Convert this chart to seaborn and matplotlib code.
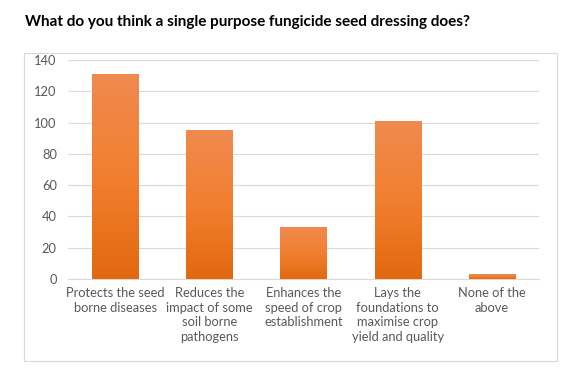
import numpy as np
import pandas as pd
import matplotlib.pyplot as plt
import seaborn as sns
from matplotlib.colors import LinearSegmentedColormap
from matplotlib.patches import Rectangle

categories = [
    "Protects the seed\nborne diseases",
    "Reduces the\nimpact of some\nsoil borne\npathogens",
    "Enhances the\nspeed of crop\nestablishment",
    "Lays the\nfoundations to\nmaximise crop\nyield and quality",
    "None of the\nabove",
]
counts = [131, 95, 33, 101, 3]
yticks = [0, 20, 40, 60, 80, 100, 120, 140]

sns.set_style("white")
plt.rcParams["font.family"] = ["Lato", "DejaVu Sans"]

df = pd.DataFrame({"answer": categories, "count": counts})

fig = plt.figure(figsize=(5.73, 3.88), dpi=100)
ax = fig.add_axes([68 / 573, 1 - 279 / 388, 471 / 573, 219 / 388])

sns.barplot(data=df, x="answer", y="count", color="#ED7D31", width=0.49, ax=ax, zorder=2)

# vertical orange gradient inside each bar
grad = LinearSegmentedColormap.from_list("og", ["#E2680F", "#F27F2F", "#F08A50"])
g = np.linspace(0, 1, 256).reshape(-1, 1)
for p in ax.patches:
    x0, y0 = p.get_x(), p.get_y()
    w, h = p.get_width(), p.get_height()
    im = ax.imshow(g, cmap=grad, aspect="auto", origin="lower",
                   extent=[x0, x0 + w, y0, y0 + h], zorder=3)
    im.set_clip_path(p)
    p.set_facecolor("none")
    p.set_edgecolor("none")

ax.set_xlim(-0.5, len(categories) - 0.5)
ax.set_ylim(0, 140)
ax.set_yticks(yticks)
ax.yaxis.grid(True, color="#D9D9D9", linewidth=0.8, zorder=0)
ax.set_axisbelow(True)
for s in ["top", "right", "left"]:
    ax.spines[s].set_visible(False)
ax.spines["bottom"].set_color("#D9D9D9")
ax.tick_params(axis="both", length=0, colors="#595959", labelsize=9.3)
ax.tick_params(axis="x", pad=6)
ax.tick_params(axis="y", pad=8)
for lbl in ax.get_xticklabels():
    lbl.set_linespacing(1.25)
ax.set_xlabel("")
ax.set_ylabel("")

fig.text(25 / 573, 1 - 22 / 388, "What do you think a single purpose fungicide seed dressing does?",
         fontsize=11, fontweight="bold", color="black", va="center", ha="left")

fig.patches.append(Rectangle((24 / 573, 1 - 361 / 388), 533 / 573, 308 / 388,
                             transform=fig.transFigure, fill=False,
                             edgecolor="#D9D9D9", linewidth=0.8))

fig.savefig("out.png", dpi=100)
